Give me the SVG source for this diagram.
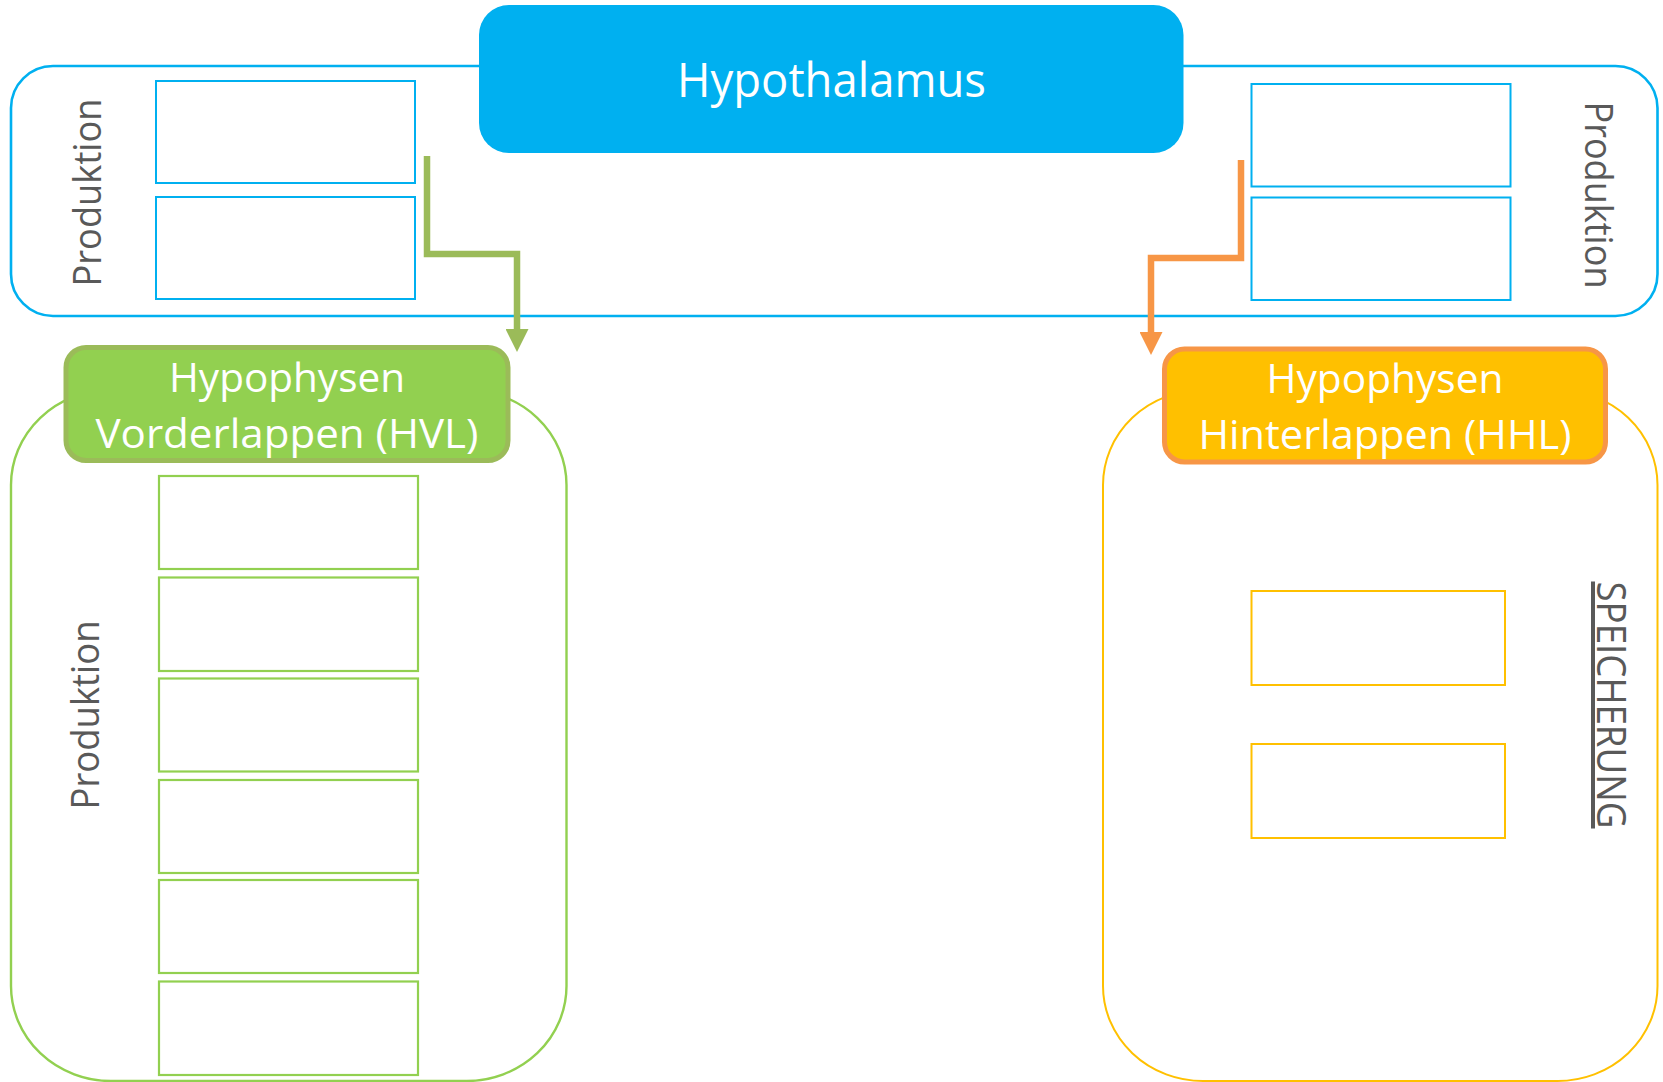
<svg xmlns="http://www.w3.org/2000/svg" width="1663" height="1082" viewBox="0 0 1663 1082">
<defs>
<style>
.lbl{font-family:"Open Sans","Liberation Sans",sans-serif;fill:#595959;}
.hdr{font-family:"Open Sans","Liberation Sans",sans-serif;fill:#ffffff;text-anchor:middle;}
.bbox{fill:#ffffff;stroke:#00B0F0;stroke-width:2;}
.gbox{fill:#ffffff;stroke:#92D050;stroke-width:2.2;}
.obox{fill:#ffffff;stroke:#FFC000;stroke-width:2;}
.conn{fill:none;stroke-width:6.5;stroke-linejoin:miter;}
</style>
<marker id="ag" viewBox="0 0 23 23" refX="0" refY="11.5" markerWidth="23" markerHeight="23" markerUnits="userSpaceOnUse" orient="auto"><path d="M0,0 L23,11.5 L0,23 z" fill="#9BBB59"/></marker>
<marker id="ao" viewBox="0 0 23 23" refX="0" refY="11.5" markerWidth="23" markerHeight="23" markerUnits="userSpaceOnUse" orient="auto"><path d="M0,0 L23,11.5 L0,23 z" fill="#F79646"/></marker>
</defs>
<rect width="1663" height="1082" fill="#ffffff"/>

<g id="top-container">
<rect x="11" y="66" width="1646.5" height="250" rx="42" ry="42" fill="#ffffff" stroke="#00B0F0" stroke-width="2.6"/>
</g>
<g id="hypothalamus">
<rect x="479" y="5" width="704.5" height="148" rx="30" ry="30" fill="#00B0F0"/>
<text class="hdr" x="831.5" y="97" font-size="48" textLength="309" lengthAdjust="spacingAndGlyphs">Hypothalamus</text>
</g>
<g id="hypo-left-boxes">
<rect class="bbox" x="156" y="81" width="259" height="102"/>
<rect class="bbox" x="156" y="197" width="259" height="102"/>
<text class="lbl" transform="translate(101,192.5) rotate(-90)" text-anchor="middle" font-size="39" textLength="188" lengthAdjust="spacingAndGlyphs">Produktion</text>
</g>
<g id="hypo-right-boxes">
<rect class="bbox" x="1251.5" y="84" width="259" height="102.5"/>
<rect class="bbox" x="1251.5" y="197.5" width="259" height="102.5"/>
<text class="lbl" transform="translate(1585,195) rotate(90)" text-anchor="middle" font-size="39" textLength="187" lengthAdjust="spacingAndGlyphs">Produktion</text>
</g>

<g id="hvl-container">
<rect x="11" y="390" width="555.5" height="691" rx="100" ry="95" fill="#ffffff" stroke="#92D050" stroke-width="2.4"/>
</g>
<g id="hvl">
<rect x="66" y="347.5" width="442" height="113" rx="20" ry="20" fill="#92D050" stroke="#9BBB59" stroke-width="5"/>
<text class="hdr" x="287" y="392" font-size="41" textLength="236" lengthAdjust="spacingAndGlyphs">Hypophysen</text>
<text class="hdr" x="287" y="448" font-size="41" textLength="383" lengthAdjust="spacingAndGlyphs">Vorderlappen (HVL)</text>
</g>
<g id="hvl-boxes">
<rect class="gbox" x="159" y="476" width="259" height="93"/>
<rect class="gbox" x="159" y="577.5" width="259" height="93.5"/>
<rect class="gbox" x="159" y="678.5" width="259" height="93"/>
<rect class="gbox" x="159" y="780" width="259" height="93"/>
<rect class="gbox" x="159" y="880" width="259" height="93"/>
<rect class="gbox" x="159" y="981.5" width="259" height="93.5"/>
<text class="lbl" transform="translate(99,715) rotate(-90)" text-anchor="middle" font-size="39" textLength="189" lengthAdjust="spacingAndGlyphs">Produktion</text>
</g>

<g id="hhl-container">
<rect x="1103" y="390" width="554.5" height="691" rx="100" ry="95" fill="#ffffff" stroke="#FFC000" stroke-width="2"/>
</g>
<g id="hhl">
<rect x="1164.5" y="349" width="441" height="113" rx="20" ry="20" fill="#FFC000" stroke="#F79646" stroke-width="5"/>
<text class="hdr" x="1385" y="393" font-size="41" textLength="237" lengthAdjust="spacingAndGlyphs">Hypophysen</text>
<text class="hdr" x="1385" y="449" font-size="41" textLength="373" lengthAdjust="spacingAndGlyphs">Hinterlappen (HHL)</text>
</g>
<g id="hhl-boxes">
<rect class="obox" x="1251.5" y="591" width="253.5" height="94"/>
<rect class="obox" x="1251.5" y="744" width="253.5" height="94"/>
<text class="lbl" transform="translate(1597,705) rotate(90)" text-anchor="middle" font-size="40" textLength="247" lengthAdjust="spacingAndGlyphs" text-decoration="underline">SPEICHERUNG</text>
</g>

<g id="connectors">
<path class="conn" stroke="#9BBB59" d="M427,156 L427,254 L517,254 L517,329" marker-end="url(#ag)"/>
<path class="conn" stroke="#F79646" d="M1241,160 L1241,258 L1151,258 L1151,332" marker-end="url(#ao)"/>
</g>
</svg>
